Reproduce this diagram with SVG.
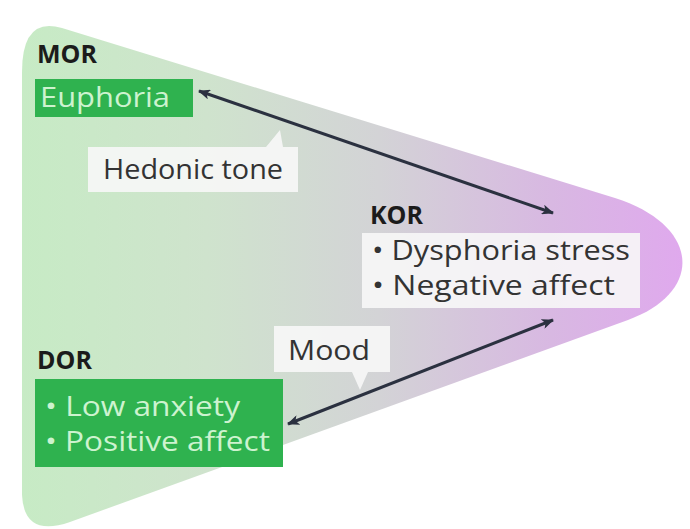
<svg xmlns="http://www.w3.org/2000/svg" width="690" height="529" viewBox="0 0 690 529">
<defs>
<linearGradient id="cone" x1="0" y1="0" x2="690" y2="0" gradientUnits="userSpaceOnUse">
<stop offset="0" stop-color="#c6ecc4"/>
<stop offset="0.3" stop-color="#cfe3cd"/>
<stop offset="0.55" stop-color="#d3d3d6"/>
<stop offset="0.8" stop-color="#d8b8e2"/>
<stop offset="1" stop-color="#e0a8ee"/>
</linearGradient>
<marker id="ah" viewBox="0 0 12 10" refX="11" refY="5" markerWidth="13" markerHeight="10" orient="auto-start-reverse" markerUnits="userSpaceOnUse">
<path d="M0,0 L12,5 L0,10 L3,5 z" fill="#2b3140"/>
</marker>
<style>
.lbl{font-family:"Open Sans","Liberation Sans",sans-serif;font-weight:bold;font-size:25px;fill:#1b1b1b}
.txt{font-family:"Open Sans","Liberation Sans",sans-serif;font-size:28px;fill:#333333}
.wtxt{font-family:"Open Sans","Liberation Sans",sans-serif;font-size:28px;fill:#cdf3cf}
.gbox{fill:#2fb24f}
.wbox{fill:#f7f7f7;fill-opacity:0.9}
.conn{stroke:#2b3140;stroke-width:3;fill:none;marker-start:url(#ah);marker-end:url(#ah)}
</style>
</defs>
<rect width="690" height="529" fill="#ffffff"/>
<path id="cone-shape" d="M 62,28 L 615,198 C 700,225 705,292 628,320 L 70,522 Q 24,538 22,495 L 22,72 Q 22,16 62,28 Z" fill="url(#cone)"/>

<g id="mor">
<text class="lbl" x="37" y="63">MOR</text>
<rect class="gbox" x="35" y="79" width="158" height="38"/>
<text class="wtxt" x="40" y="107" textLength="130" lengthAdjust="spacingAndGlyphs">Euphoria</text>
</g>

<g id="hedonic">
<path class="wbox" d="M 88,147 L 266,147 L 280,130 L 283,147 L 298,147 L 298,192 L 88,192 Z"/>
<text class="txt" x="103" y="179" textLength="180" lengthAdjust="spacingAndGlyphs">Hedonic tone</text>
</g>

<g id="kor">
<text class="lbl" x="370" y="224">KOR</text>
<rect class="wbox" x="362" y="233" width="278" height="75"/>
<text class="txt" x="372" y="260" textLength="258" lengthAdjust="spacingAndGlyphs">• Dysphoria stress</text>
<text class="txt" x="372" y="295" textLength="243" lengthAdjust="spacingAndGlyphs">• Negative affect</text>
</g>

<g id="mood">
<path class="wbox" d="M 274,326 L 390,326 L 390,372 L 368,372 L 360,390 L 352,372 L 274,372 Z"/>
<text class="txt" x="288" y="360" textLength="82" lengthAdjust="spacingAndGlyphs">Mood</text>
</g>

<g id="dor">
<text class="lbl" x="37" y="369">DOR</text>
<rect class="gbox" x="35" y="379" width="248" height="88"/>
<text class="wtxt" x="45" y="416" textLength="195" lengthAdjust="spacingAndGlyphs">• Low anxiety</text>
<text class="wtxt" x="45" y="451" textLength="225" lengthAdjust="spacingAndGlyphs">• Positive affect</text>
</g>

<g id="connectors">
<line class="conn" x1="199" y1="91" x2="553" y2="213"/>
<line class="conn" x1="553" y1="320" x2="288" y2="424"/>
</g>
</svg>
